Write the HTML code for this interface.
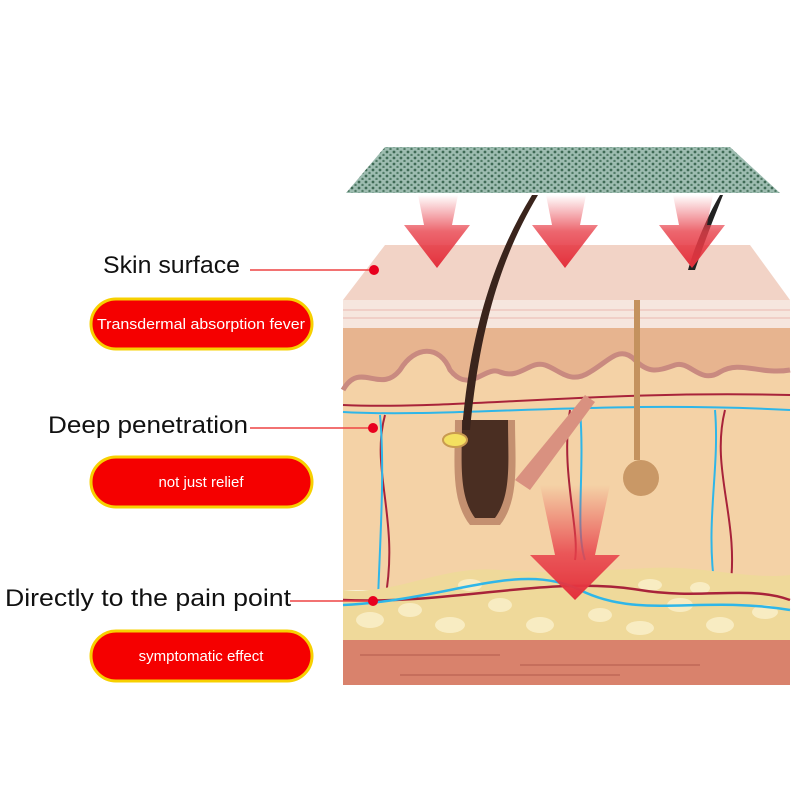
<!DOCTYPE html>
<html><head><style>
body{margin:0;background:#fff;width:800px;height:800px;overflow:hidden;font-family:"Liberation Sans",sans-serif}
</style></head><body>
<svg width="800" height="800" viewBox="0 0 800 800" xmlns="http://www.w3.org/2000/svg">
<defs>
<pattern id="dots" width="7" height="6" patternUnits="userSpaceOnUse">
<rect width="7" height="6" fill="#9dbcb0"/><circle cx="2" cy="2" r="1.4" fill="#3f6a55"/><circle cx="5.5" cy="5" r="1.2" fill="#4f7a65"/></pattern>
<linearGradient id="ag" x1="0" y1="0" x2="0" y2="1"><stop offset="0" stop-color="#e8404a" stop-opacity="0"/><stop offset="0.5" stop-color="#e8404a" stop-opacity="0.8"/><stop offset="1" stop-color="#e3303c"/></linearGradient>
<linearGradient id="ag2" x1="0" y1="0" x2="0" y2="1"><stop offset="0" stop-color="#e8404a" stop-opacity="0"/><stop offset="0.6" stop-color="#e8404a" stop-opacity="0.85"/><stop offset="1" stop-color="#e3303c"/></linearGradient>
</defs>
<polygon points="385,147 730,147 780,193 346,193" fill="url(#dots)"/>
<polygon points="385,245 750,245 790,300 343,300" fill="#f2d3c6"/>
<rect x="343" y="300" width="447" height="28" fill="#f6e6de"/>
<line x1="343" y1="310" x2="790" y2="310" stroke="#eab8b0" stroke-width="1"/>
<line x1="343" y1="318" x2="790" y2="318" stroke="#eab8b0" stroke-width="1"/>
<rect x="343" y="328" width="447" height="262" fill="#f4d2a6"/>
<path d="M343,328 L790,328 L790,370 C760,375 740,360 720,372 C700,385 690,360 675,365 C660,370 650,375 635,360 C620,345 610,360 590,372 C570,385 560,370 545,365 C530,360 520,380 500,372 C485,365 470,395 450,370 C440,345 415,345 400,370 C380,395 360,360 343,390 Z" fill="#e7b48f"/>
<path d="M343,390 C360,360 380,395 400,370 C415,345 440,345 450,370 C470,395 485,365 500,372 C520,380 530,360 545,365 C560,370 570,385 590,372 C610,360 620,345 635,360 C650,375 660,370 675,365 C690,360 700,385 720,372 C740,360 760,375 790,370" fill="none" stroke="#c98a80" stroke-width="5"/>
<g fill="none" stroke-width="2">
<path d="M343,405 C450,410 600,390 790,395" stroke="#a8233a"/>
<path d="M343,412 C450,418 600,400 790,410" stroke="#2fb6e8"/>
<path d="M385,415 C370,470 400,520 385,600" stroke="#a8233a"/>
<path d="M380,415 C385,470 380,540 378,600" stroke="#2fb6e8"/>
<path d="M725,410 C710,470 740,520 730,590" stroke="#a8233a"/>
<path d="M715,410 C720,470 705,520 715,590" stroke="#2fb6e8"/>
<path d="M570,410 C560,470 580,530 575,560" stroke="#a8233a"/>
<path d="M580,410 C585,470 575,530 585,560" stroke="#2fb6e8"/>
</g>
<path d="M343,590 C400,595 440,565 500,570 C560,575 600,570 650,568 C700,565 750,580 790,575 L790,640 L343,640 Z" fill="#efd99a"/>
<g fill="#f8ecc2">
<ellipse cx="370" cy="620" rx="14" ry="8"/><ellipse cx="410" cy="610" rx="12" ry="7"/><ellipse cx="450" cy="625" rx="15" ry="8"/><ellipse cx="500" cy="605" rx="12" ry="7"/><ellipse cx="540" cy="625" rx="14" ry="8"/><ellipse cx="600" cy="615" rx="12" ry="7"/><ellipse cx="640" cy="628" rx="14" ry="7"/><ellipse cx="680" cy="605" rx="13" ry="7"/><ellipse cx="720" cy="625" rx="14" ry="8"/><ellipse cx="765" cy="612" rx="13" ry="7"/><ellipse cx="470" cy="585" rx="12" ry="6"/><ellipse cx="650" cy="585" rx="12" ry="6"/><ellipse cx="700" cy="588" rx="10" ry="6"/>
</g>
<path d="M343,600 C450,605 550,575 640,590 C700,600 750,585 790,600" fill="none" stroke="#a8233a" stroke-width="2.5"/>
<path d="M343,605 C450,600 520,560 580,590 C640,620 700,595 790,610" fill="none" stroke="#2fb6e8" stroke-width="2.5"/>
<rect x="343" y="640" width="447" height="45" fill="#d9826c"/>
<g stroke="#b45a4c" stroke-width="1"><line x1="360" y1="655" x2="500" y2="655"/><line x1="520" y1="665" x2="700" y2="665"/><line x1="400" y1="675" x2="620" y2="675"/></g>
<rect x="634" y="300" width="6" height="160" fill="#c4925e"/>
<circle cx="641" cy="478" r="18" fill="#c99866"/>
<path d="M515,480 L585,395 L595,402 L530,490 Z" fill="#d99180"/>
<path d="M455,420 C455,460 450,500 470,525 L500,525 C520,500 515,460 515,420 Z" fill="#c49070"/>
<path d="M462,420 C462,460 458,495 475,518 L495,518 C512,495 508,460 508,420 Z" fill="#4a2e22"/>
<ellipse cx="455" cy="440" rx="12" ry="7" fill="#f4e060" stroke="#c99a50" stroke-width="2"/>
<path d="M470,430 C480,320 505,250 538,195 L532,195 C495,255 470,330 462,430 Z" fill="#3a241c"/>
<path d="M695,270 C705,240 715,215 723,195 L720,195 C708,215 695,245 688,270 Z" fill="#222"/>
<path d="M418,195 L458,195 L452,225 L470,225 L437,268 L404,225 L424,225 Z" fill="url(#ag)"/>
<path d="M546,195 L586,195 L580,225 L598,225 L565,268 L532,225 L552,225 Z" fill="url(#ag)"/>
<path d="M673,195 L713,195 L707,225 L725,225 L692,268 L659,225 L679,225 Z" fill="url(#ag)"/>
<path d="M540,485 L610,485 L595,555 L620,555 L575,600 L530,555 L555,555 Z" fill="url(#ag2)"/>
<line x1="250" y1="270" x2="374" y2="270" stroke="#ee4444" stroke-width="1.5"/><circle cx="374" cy="270" r="5" fill="#e8001e"/>
<line x1="250" y1="428" x2="373" y2="428" stroke="#ee4444" stroke-width="1.5"/><circle cx="373" cy="428" r="5" fill="#e8001e"/>
<line x1="290" y1="601" x2="373" y2="601" stroke="#ee4444" stroke-width="1.5"/><circle cx="373" cy="601" r="5" fill="#e8001e"/>
<g font-family="Liberation Sans, sans-serif" font-size="24" fill="#111">
<text x="103" y="273" textLength="137" lengthAdjust="spacingAndGlyphs">Skin surface</text>
<text x="48" y="433" textLength="200" lengthAdjust="spacingAndGlyphs">Deep penetration</text>
<text x="5" y="606" textLength="286" lengthAdjust="spacingAndGlyphs">Directly to the pain point</text>
</g>
<g stroke="#f7d000" stroke-width="3" fill="#f50000">
<rect x="91" y="299" width="221" height="50" rx="25"/>
<rect x="91" y="457" width="221" height="50" rx="25"/>
<rect x="91" y="631" width="221" height="50" rx="25"/>
</g>
<g font-family="Liberation Sans, sans-serif" font-size="15" fill="#fff" text-anchor="middle">
<text x="201" y="329" textLength="208" lengthAdjust="spacingAndGlyphs">Transdermal absorption fever</text>
<text x="201" y="487">not just relief</text>
<text x="201" y="661">symptomatic effect</text>
</g>
</svg>
</body></html>
